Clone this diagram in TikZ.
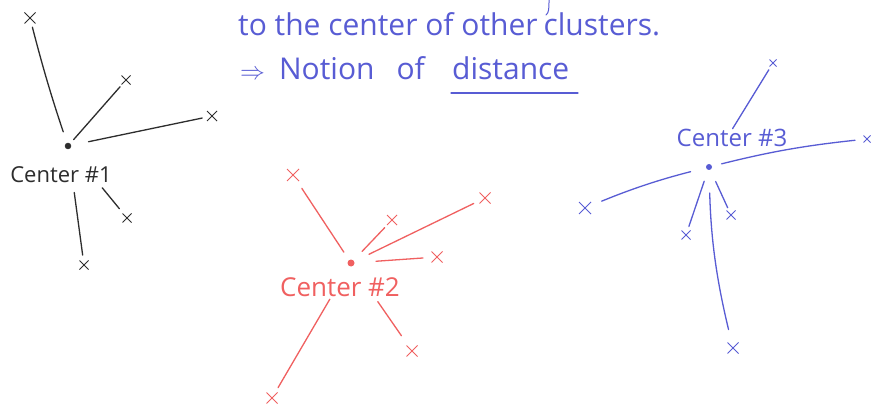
\documentclass[tikz,border=0pt]{standalone}
\usepackage{fontspec}
\setmainfont{Open Sans}
\usetikzlibrary{shapes.misc}
\definecolor{hblue}{RGB}{88,92,212}
\definecolor{hred}{RGB}{240,96,96}
\definecolor{hblack}{RGB}{45,45,45}
\begin{document}
\begin{tikzpicture}[x=1pt,y=-1pt,
  xmark/.style={cross out, draw, line width=1pt, inner sep=0pt, minimum size=#1},
  xmark/.default=8pt,
  ctr/.style={circle, fill, inner sep=0pt, minimum size=#1},
  ctr/.default=6pt,
  lbl/.style={font=\fontsize{#1}{#1}\selectfont, inner sep=0pt},
  lbl/.default=22,
  link/.style={line width=1.3pt, line cap=round},
  txt/.style={font=\fontsize{30}{30}\selectfont, inner sep=0pt, anchor=base west, text=hblue}]
\useasboundingbox[fill=white] (0,0) rectangle (873,409);

% heading text
\node[txt] (t1) at (238,36) {to the center of other\hspace{6pt}clusters.};
\node[txt] (t2) at (240,80) {$\Rightarrow$\hspace{14pt}Notion\hspace{22pt}of};
\node[txt] (t3) at (452,80) {distance};
\coordinate (u1) at (451,93);
\coordinate (u2) at (578,93);
\draw[link, hblue] (u1) -- (u2);
\coordinate (g1) at (549,0);
\coordinate (g2) at (546,15);
\draw[line width=1pt, hblue, line cap=round] (g1) .. controls (549,8) and (549,13) .. (g2);

% cluster 1 (black)
\begin{scope}[hblack]
\node[ctr, draw=hblack] (c1) at (68,146) {};
\node[lbl=22, text=hblack] (l1) at (61,175) {Center \#1};
\node[xmark=10pt] (a1) at (30,18) {};
\node[xmark=8pt] (a2) at (126,80) {};
\node[xmark=9pt] (a3) at (212,116) {};
\node[xmark=8pt] (a4) at (127,218) {};
\node[xmark=8pt] (a5) at (84,265) {};
\draw[link, shorten <=15pt, shorten >=9.5pt] (c1.center) to[bend left=2] (a1.center);
\draw[link, shorten <=8.6pt, shorten >=9pt] (c1.center) -- (a2.center);
\draw[link, shorten <=21pt, shorten >=10pt] (c1.center) -- (a3.center);
\draw[link, shorten <=54pt, shorten >=12pt] (c1.center) -- (a4.center);
\draw[link, shorten <=47pt, shorten >=10pt] (c1.center) -- (a5.center);
\end{scope}

% cluster 2 (red)
\begin{scope}[hred]
\node[ctr=7pt] (c2) at (351,263) {};
\node[lbl=26, text=hred] (l2) at (340,287) {Center \#2};
\node[xmark=11pt] (b1) at (293,175) {};
\node[xmark=9pt] (b2) at (392,220) {};
\node[xmark=10pt] (b3) at (485,198) {};
\node[xmark=10pt] (b4) at (437,257) {};
\node[xmark=10pt] (b5) at (412,351) {};
\node[xmark=10pt] (b6) at (272,398) {};
\draw[link, shorten <=13pt, shorten >=16pt] (c2.center) -- (b1.center);
\draw[link, shorten <=16pt, shorten >=10.6pt] (c2.center) -- (b2.center);
\draw[link, shorten <=20pt, shorten >=12.6pt] (c2.center) -- (b3.center);
\draw[link, shorten <=25pt, shorten >=14pt] (c2.center) -- (b4.center);
\draw[link, shorten <=47pt, shorten >=18.6pt] (c2.center) -- (b5.center);
\draw[link, shorten <=42pt, shorten >=12pt] (c2.center) -- (b6.center);
\end{scope}

% cluster 3 (blue)
\begin{scope}[hblue]
\node[ctr=6pt] (c3) at (709,167) {};
\node[lbl=24, text=hblue] (l3) at (732,138) {Center \#3};
\node[xmark=6pt] (d1) at (773,63) {};
\node[xmark=6pt] (d2) at (867,139) {};
\node[xmark=11pt] (d3) at (585,208) {};
\node[xmark=8pt] (d4) at (686,235) {};
\node[xmark=8pt] (d5) at (731,215) {};
\node[xmark=10pt] (d6) at (733,348) {};
\draw[link, shorten <=45pt, shorten >=8pt] (c3.center) -- (d1.center);
\draw[link, shorten <=13pt, shorten >=12pt] (c3.center) to[bend left=4] (d2.center);
\draw[link, shorten <=19pt, shorten >=18pt] (c3.center) to[bend right=4] (d3.center);
\draw[link, shorten <=15pt, shorten >=9pt] (c3.center) -- (d4.center);
\draw[link, shorten <=16pt, shorten >=8pt] (c3.center) -- (d5.center);
\draw[link, shorten <=26pt, shorten >=19pt] (c3.center) to[bend right=6] (d6.center);
\end{scope}
\end{tikzpicture}
\end{document}
